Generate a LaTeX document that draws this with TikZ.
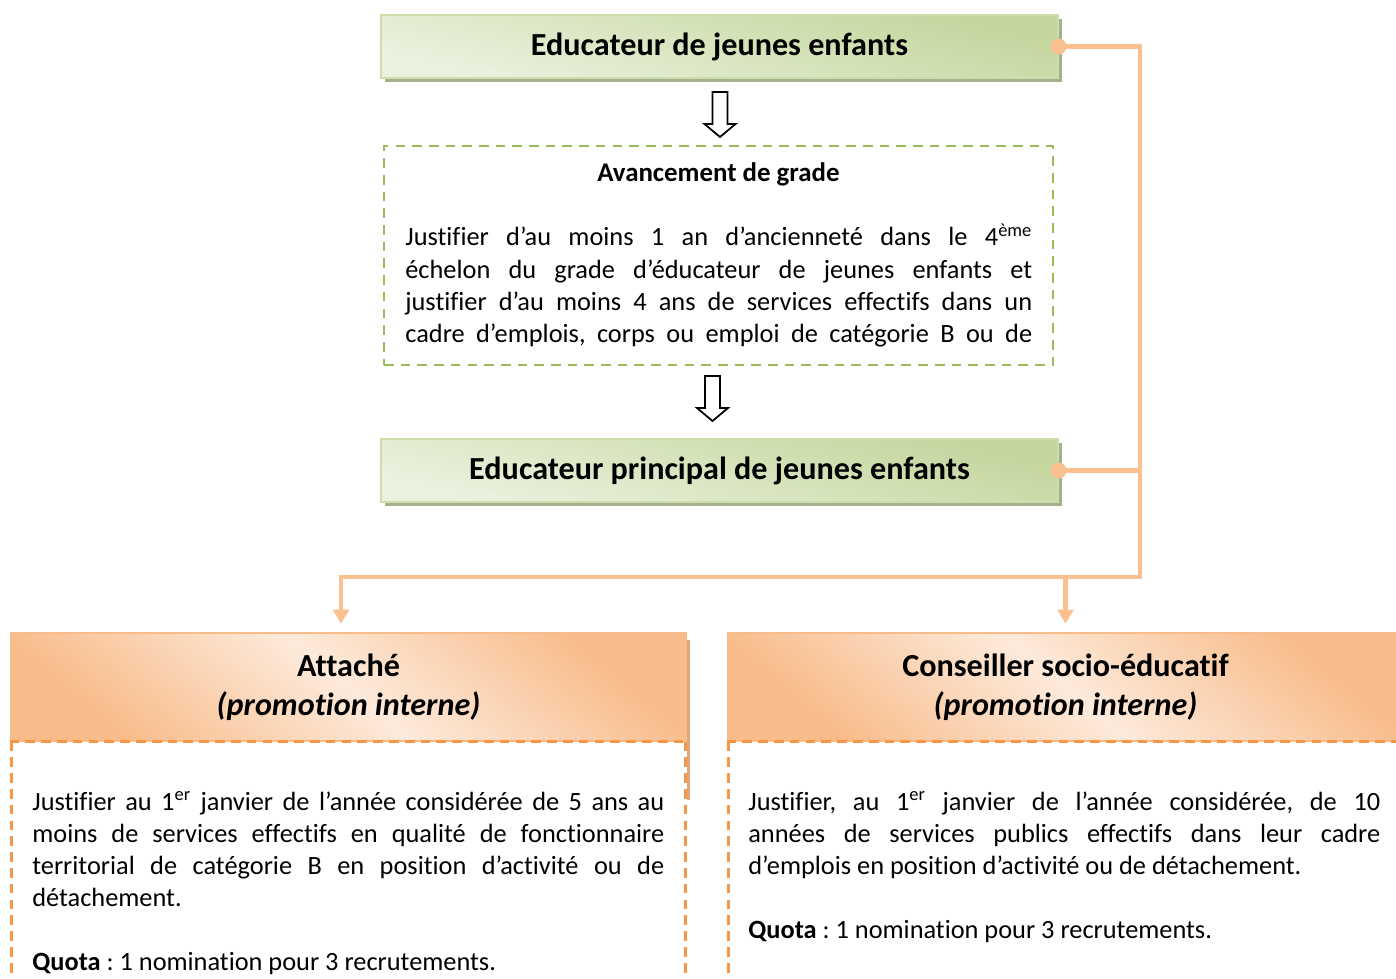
\documentclass[tikz,border=0pt]{standalone}
\usepackage{fontspec}
\setmainfont{Carlito}[Ligatures=NoCommon]
\usetikzlibrary{arrows.meta,shadows}

\definecolor{gDark}{RGB}{194,214,155}
\definecolor{gLight}{RGB}{236,242,224}
\definecolor{gEdge}{RGB}{205,221,172}
\definecolor{gShade}{RGB}{163,177,141}
\definecolor{gDash}{RGB}{155,187,89}
\definecolor{oLine}{RGB}{250,192,144}
\definecolor{oDark}{RGB}{248,188,138}
\definecolor{oLight}{RGB}{253,234,219}
\definecolor{oDash}{RGB}{247,150,70}
\definecolor{oShade}{RGB}{222,168,122}

\begin{document}
\frenchspacing
\begin{tikzpicture}[x=0.02cm,y=-0.02cm,
    gradebox/.style={draw=gEdge,line width=.8pt,top color=gDark,bottom color=gLight,shading angle=-15,
      minimum width=13.54cm,minimum height=1.26cm,inner sep=0pt,
      drop shadow={shadow xshift=2.3pt,shadow yshift=-2.3pt,opacity=1,fill=gShade},
      font=\bfseries\fontsize{18.3}{22}\selectfont},
    condbox/.style={draw=gDash,line width=1.4pt,dash pattern=on 5.5pt off 4pt,
      minimum width=13.38cm,minimum height=4.38cm,inner sep=0pt},
    headbox/.style={draw=oDark,line width=.6pt,top color=oDark,bottom color=oDark,middle color=oLight,
      shading angle=-40,minimum width=13.54cm,minimum height=2.16cm,inner sep=0pt,align=center,
      font=\bfseries\fontsize{18.3}{22.1}\selectfont},
    bodytext/.style={anchor=base west,inner sep=0pt,text width=12.64cm,align=justify,
      font=\fontsize{15}{18.3}\selectfont},
    odash/.style={draw=oDash,line width=1.4pt,dash pattern=on 5.5pt off 3.5pt},
    conn/.style={draw=oLine,line width=2.3pt},
    hollow/.style={draw=black,line width=1pt,fill=white,line join=miter}]

  %% Page size and clipping
  \useasboundingbox (0,0) rectangle (1396,979);
  \clip (0,0) rectangle (1396,979);

  %% Grades of the cadre
  \node[gradebox] (edj) at (719.5,46.5) {Educateur de jeunes enfants};
  \node[gradebox] (epj) at (719.5,470.5) {Educateur principal de jeunes enfants};

  %% Conditions of the promotion
  \node[condbox] (avg) at (718.5,255.5) {};
  \node[font=\bfseries\fontsize{15.3}{18}\selectfont] (avgt) at (718.5,174) {Avancement de grade};
  \node[bodytext,text width=12.54cm] (avgx) at (405,246) {\parfillskip=0pt
    Justifier d’au moins 1 an d’ancienneté dans le 4\textsuperscript{ème}\linebreak
    échelon du grade d’éducateur de jeunes enfants et\linebreak
    justifier d’au moins 4 ans de services effectifs dans un\linebreak
    cadre d’emplois, corps ou emploi de catégorie B ou de\par};

  %% Hollow arrows between the grades
  \foreach \ax/\ay in {720/92,712.5/376}{
    \draw[hollow] (\ax-7.5,\ay) -- (\ax+7.5,\ay) -- (\ax+7.5,\ay+32) -- (\ax+15.5,\ay+32)
      -- (\ax,\ay+45) -- (\ax-15.5,\ay+32) -- (\ax-7.5,\ay+32) -- cycle;
  }

  %% Other cadres
  \fill[oShade] (687,640) rectangle (690,800);
  \node[headbox] (att) at (348.5,687) {Attaché\\\textit{(promotion interne)}};
  \node[headbox] (cse) at (1065.5,687) {Conseiller socio-éducatif\\\textit{(promotion interne)}};
  \foreach \b in {att,cse}{
    \draw[odash] (\b.south west) -- (\b.south east);
    \draw[odash] ([xshift=1pt]\b.south west) -- ++(0,260);
    \draw[odash] ([xshift=-1pt]\b.south east) -- ++(0,260);
  }
  \node[bodytext] (attx) at (32,810) {Justifier au 1\textsuperscript{er} janvier de l’année considérée de 5 ans au\linebreak
    moins de services effectifs en qualité de fonctionnaire\linebreak
    territorial de catégorie B en position d’activité ou de\linebreak
    détachement.\par\vspace{18.3pt}
    \textbf{Quota} : 1 nomination pour 3 recrutements.};
  \node[bodytext] (csex) at (748,810) {Justifier, au 1\textsuperscript{er} janvier de l’année considérée, de 10\linebreak
    années de services publics effectifs dans leur cadre\linebreak
    d’emplois en position d’activité ou de détachement.\par\vspace{18.3pt}
    \textbf{Quota} : 1 nomination pour 3 recrutements.};

  %% Orange connectors
  \coordinate (bus) at (1140,577);
  \coordinate (attin) at ([xshift=-4.25pt]att.north);
  \draw[conn,-{Triangle[width=9pt,length=8pt]},shorten >=5pt] (edj.east) -| (bus) -| (attin);
  \draw[conn] (epj.east) -- (epj.east -| bus);
  \draw[conn,-{Triangle[width=9pt,length=8pt]},shorten >=5pt] (bus -| cse.north) -- (cse.north);
  \fill[oLine] (edj.east) circle (4.5pt) (epj.east) circle (4.5pt);

\end{tikzpicture}
\end{document}
